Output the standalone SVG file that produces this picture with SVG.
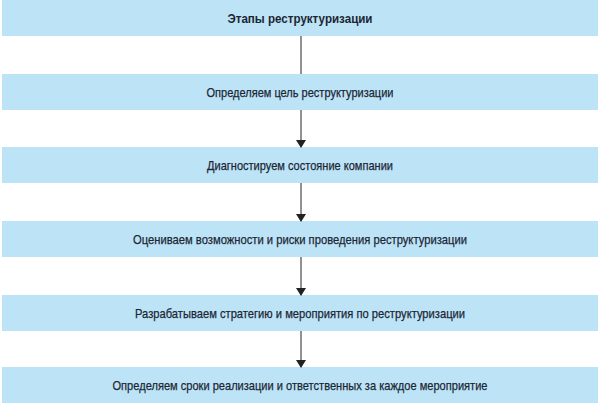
<svg xmlns="http://www.w3.org/2000/svg" width="600" height="407" viewBox="0 0 600 407">
<style>
.box{fill:#bde3f7;}
.t{font-family:"Liberation Sans","DejaVu Sans",sans-serif;font-size:13.5px;fill:#1b2633;stroke:#1b2633;stroke-width:0.25;text-anchor:middle;}
.b{font-weight:bold;stroke-width:0;}
.c{stroke:#222;stroke-width:1;fill:none;}
</style>
<defs>
<marker id="ah" markerWidth="8" markerHeight="10" refX="7" refY="5" orient="auto" markerUnits="userSpaceOnUse">
<path d="M0,0 L8,5 L0,10 Z" fill="#222"/>
</marker>
</defs>
<rect width="600" height="407" fill="#ffffff"/>
<g id="n0"><rect class="box" x="2" y="0" width="596" height="36"/><text class="t b" x="300" y="23" textLength="145" lengthAdjust="spacingAndGlyphs">Этапы реструктуризации</text></g>
<g id="n1"><rect class="box" x="2" y="74" width="596" height="36"/><text class="t" x="300" y="97" textLength="187" lengthAdjust="spacingAndGlyphs">Определяем цель реструктуризации</text></g>
<g id="n2"><rect class="box" x="2" y="147" width="596" height="36"/><text class="t" x="300" y="170" textLength="186" lengthAdjust="spacingAndGlyphs">Диагностируем состояние компании</text></g>
<g id="n3"><rect class="box" x="2" y="221" width="596" height="36"/><text class="t" x="300" y="244" textLength="334" lengthAdjust="spacingAndGlyphs">Оцениваем возможности и риски проведения реструктуризации</text></g>
<g id="n4"><rect class="box" x="2" y="295" width="596" height="36"/><text class="t" x="300" y="318" textLength="330" lengthAdjust="spacingAndGlyphs">Разрабатываем стратегию и мероприятия по реструктуризации</text></g>
<g id="n5"><rect class="box" x="2" y="367" width="596" height="36"/><text class="t" x="300" y="390" textLength="375" lengthAdjust="spacingAndGlyphs">Определяем сроки реализации и ответственных за каждое мероприятие</text></g>
<g id="connectors">
<line class="c" x1="301" y1="36" x2="301" y2="74"/>
<line class="c" x1="301" y1="110" x2="301" y2="147" marker-end="url(#ah)"/>
<line class="c" x1="301" y1="183" x2="301" y2="221" marker-end="url(#ah)"/>
<line class="c" x1="301" y1="257" x2="301" y2="295" marker-end="url(#ah)"/>
<line class="c" x1="301" y1="331" x2="301" y2="367" marker-end="url(#ah)"/>
</g>
</svg>
